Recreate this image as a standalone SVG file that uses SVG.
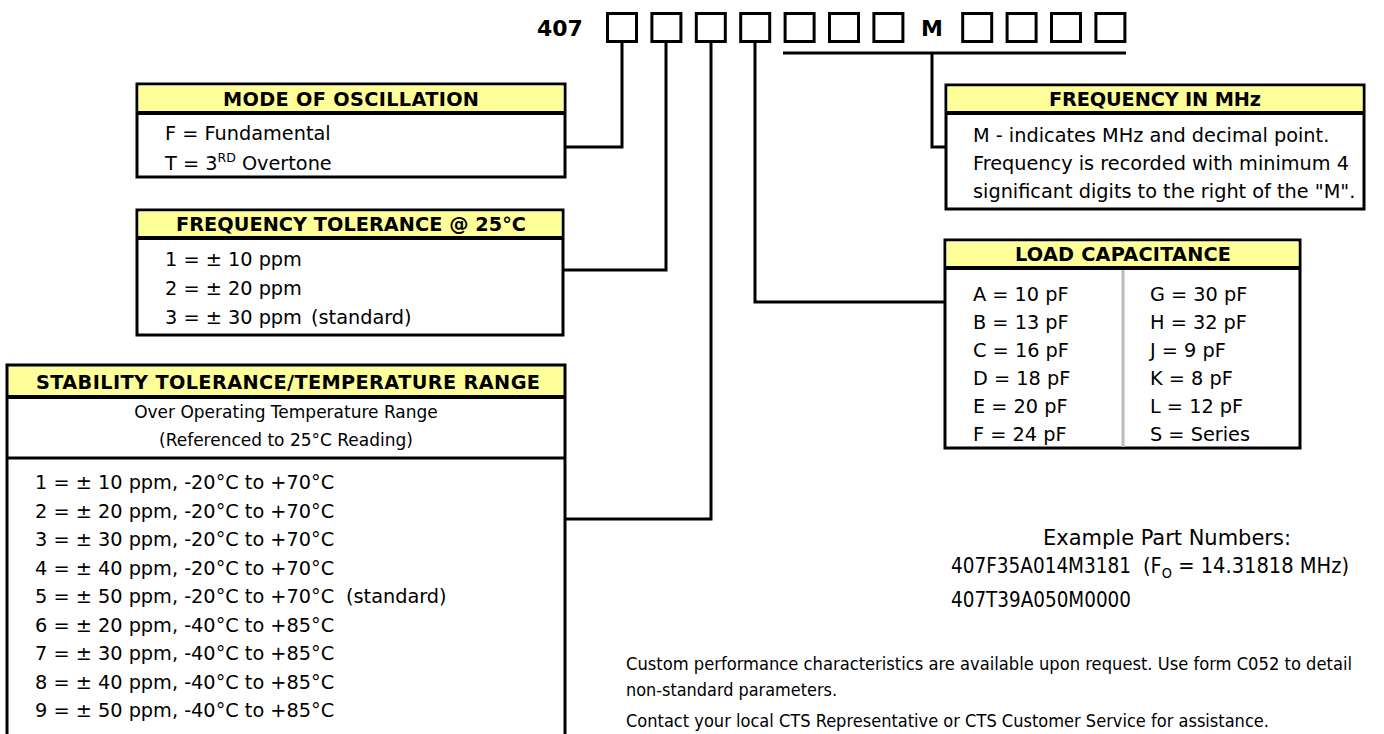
<svg xmlns="http://www.w3.org/2000/svg" width="1384" height="734" viewBox="0 0 1384 734">
<style>
.bg{fill:#fff}
.box{fill:#fff;stroke:#000;stroke-width:3}
.hdr{fill:#ffff99}
.hl{stroke:#000;stroke-width:4}
.dl{stroke:#000;stroke-width:3}
.cell{fill:none;stroke:#000;stroke-width:3}
.con{fill:none;stroke:#000;stroke-width:3}
.t{font-family:"DejaVu Sans",Verdana,sans-serif;font-size:19.3px;fill:#000}
.h{font-family:"DejaVu Sans",Verdana,sans-serif;font-size:19.3px;font-weight:bold;text-anchor:middle;fill:#000}
.s{font-size:17px;text-anchor:middle}
.sup{font-size:12.5px}
.pn{font-family:"DejaVu Sans",Verdana,sans-serif;font-size:22px;font-weight:bold;fill:#000}
.c{font-family:"Liberation Sans Narrow","DejaVu Sans Condensed","Liberation Sans",sans-serif;font-stretch:condensed;fill:#000}
.c1{font-size:18.5px}
.c2{font-size:21px}
</style>
<rect class="bg" x="0" y="0" width="1384" height="734"/>

<g id="part-number">
  <text class="pn" x="537" y="36">407</text>
  <rect class="cell" x="607.5" y="13.5" width="29" height="28"/>
  <rect class="cell" x="651.9" y="13.5" width="29" height="28"/>
  <rect class="cell" x="696.3" y="13.5" width="29" height="28"/>
  <rect class="cell" x="740.7" y="13.5" width="29" height="28"/>
  <rect class="cell" x="785.1" y="13.5" width="29" height="28"/>
  <rect class="cell" x="829.5" y="13.5" width="29" height="28"/>
  <rect class="cell" x="873.9" y="13.5" width="29" height="28"/>
  <text class="pn" x="932" y="36" text-anchor="middle">M</text>
  <rect class="cell" x="962.7" y="13.5" width="29" height="28"/>
  <rect class="cell" x="1007.1" y="13.5" width="29" height="28"/>
  <rect class="cell" x="1051.5" y="13.5" width="29" height="28"/>
  <rect class="cell" x="1095.9" y="13.5" width="29" height="28"/>
</g>

<g id="connectors">
  <path class="con" d="M622,43 V147 H565"/>
  <path class="con" d="M666,43 V270 H563"/>
  <path class="con" d="M711,43 V519 H565"/>
  <path class="con" d="M755,43 V302 H945"/>
  <path class="con" d="M783,53 H1126"/>
  <path class="con" d="M932,53 V147 H946"/>
</g>

<g id="mode">
  <rect class="box" x="137" y="84" width="428" height="93"/>
  <rect class="hdr" x="138.5" y="85.5" width="425" height="27"/>
  <line class="hl" x1="137" y1="113" x2="565" y2="113"/>
  <text class="h" x="351" y="106" textLength="256">MODE OF OSCILLATION</text>
  <text class="t" x="165" y="140">F = Fundamental</text>
  <text class="t" x="165" y="170">T = 3<tspan class="sup" dy="-8">RD</tspan><tspan dy="8"> Overtone</tspan></text>
</g>

<g id="freq-tolerance">
  <rect class="box" x="137" y="210" width="426" height="125"/>
  <rect class="hdr" x="138.5" y="211.5" width="423" height="26"/>
  <line class="hl" x1="137" y1="238" x2="563" y2="238"/>
  <text class="h" x="351" y="231" textLength="350">FREQUENCY TOLERANCE @ 25°C</text>
  <text class="t" x="165" y="266">1 = ± 10 ppm</text>
  <text class="t" x="165" y="295">2 = ± 20 ppm</text>
  <text class="t" x="165" y="324">3 = ± 30 ppm<tspan x="311">(standard)</tspan></text>
</g>

<g id="stability">
  <rect class="bg" x="7" y="365" width="558" height="372"/>
  <rect class="hdr" x="8.5" y="366.5" width="555" height="29"/>
  <path class="con" d="M7,740 V365 H565 V740"/>
  <line class="hl" x1="7" y1="397" x2="565" y2="397"/>
  <text class="h" x="288" y="389" textLength="504">STABILITY TOLERANCE/TEMPERATURE RANGE</text>
  <text class="t s" x="286" y="418">Over Operating Temperature Range</text>
  <text class="t s" x="286" y="446">(Referenced to 25°C Reading)</text>
  <line class="dl" x1="7" y1="458" x2="565" y2="458"/>
  <text class="t" x="35" y="489">1 = ± 10 ppm, -20°C to +70°C</text>
  <text class="t" x="35" y="517.5">2 = ± 20 ppm, -20°C to +70°C</text>
  <text class="t" x="35" y="546">3 = ± 30 ppm, -20°C to +70°C</text>
  <text class="t" x="35" y="574.5">4 = ± 40 ppm, -20°C to +70°C</text>
  <text class="t" x="35" y="603">5 = ± 50 ppm, -20°C to +70°C<tspan x="346">(standard)</tspan></text>
  <text class="t" x="35" y="631.5">6 = ± 20 ppm, -40°C to +85°C</text>
  <text class="t" x="35" y="660">7 = ± 30 ppm, -40°C to +85°C</text>
  <text class="t" x="35" y="688.5">8 = ± 40 ppm, -40°C to +85°C</text>
  <text class="t" x="35" y="717">9 = ± 50 ppm, -40°C to +85°C</text>
</g>

<g id="frequency-mhz">
  <rect class="box" x="946" y="85" width="418" height="124"/>
  <rect class="hdr" x="947.5" y="86.5" width="415" height="26"/>
  <line class="hl" x1="946" y1="113" x2="1364" y2="113"/>
  <text class="h" x="1155" y="106" textLength="212">FREQUENCY IN MHz</text>
  <text class="t" x="973" y="142">M - indicates MHz and decimal point.</text>
  <text class="t" x="973" y="170">Frequency is recorded with minimum 4</text>
  <text class="t" x="973" y="198">significant digits to the right of the "M".</text>
</g>

<g id="load-capacitance">
  <rect class="box" x="945" y="240" width="355" height="208"/>
  <rect class="hdr" x="946.5" y="241.5" width="352" height="26"/>
  <line class="hl" x1="945" y1="268" x2="1300" y2="268"/>
  <line x1="1123" y1="270" x2="1123" y2="447" stroke="#bbbbbb" stroke-width="3"/>
  <text class="h" x="1123" y="261" textLength="216">LOAD CAPACITANCE</text>
  <text class="t" x="973" y="301">A = 10 pF</text>
  <text class="t" x="973" y="329">B = 13 pF</text>
  <text class="t" x="973" y="357">C = 16 pF</text>
  <text class="t" x="973" y="385">D = 18 pF</text>
  <text class="t" x="973" y="413">E = 20 pF</text>
  <text class="t" x="973" y="441">F = 24 pF</text>
  <text class="t" x="1150" y="301">G = 30 pF</text>
  <text class="t" x="1150" y="329">H = 32 pF</text>
  <text class="t" x="1150" y="357">J = 9 pF</text>
  <text class="t" x="1150" y="385">K = 8 pF</text>
  <text class="t" x="1150" y="413">L = 12 pF</text>
  <text class="t" x="1150" y="441">S = Series</text>
</g>

<g id="examples">
  <text class="c c2" x="1043" y="545" textLength="248" lengthAdjust="spacingAndGlyphs">Example Part Numbers:</text>
  <text class="c c2" x="951" y="573" textLength="180" lengthAdjust="spacingAndGlyphs">407F35A014M3181</text>
  <text class="c c2" x="1143" y="573" textLength="206" lengthAdjust="spacingAndGlyphs">(F<tspan font-size="14" dy="5">O</tspan><tspan dy="-5"> = 14.31818 MHz)</tspan></text>
  <text class="c c2" x="951" y="607" textLength="180" lengthAdjust="spacingAndGlyphs">407T39A050M0000</text>
</g>

<g id="notes">
  <text class="c c1" x="626" y="670" textLength="726" lengthAdjust="spacingAndGlyphs">Custom performance characteristics are available upon request.  Use form C052 to detail</text>
  <text class="c c1" x="626" y="696" textLength="211" lengthAdjust="spacingAndGlyphs">non-standard parameters.</text>
  <text class="c c1" x="626" y="727" textLength="643" lengthAdjust="spacingAndGlyphs">Contact your local CTS Representative or CTS Customer Service for assistance.</text>
</g>
</svg>
